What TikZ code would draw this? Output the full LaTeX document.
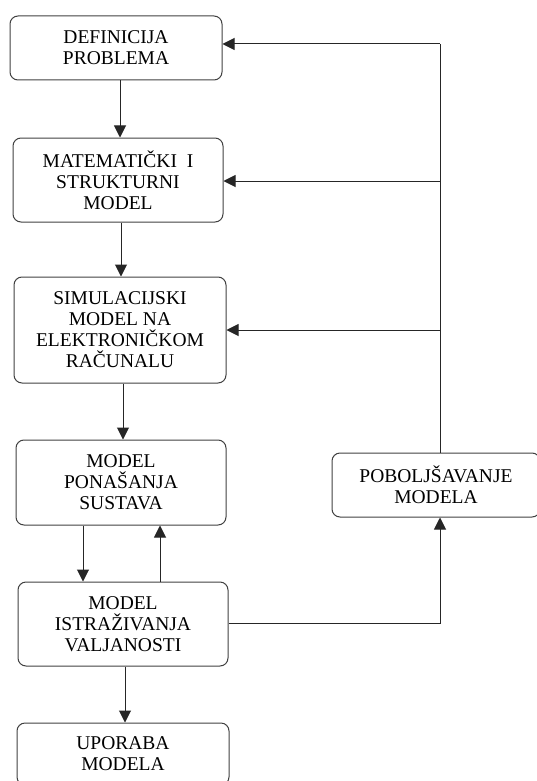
\documentclass[tikz,border=0pt]{standalone}
\usepackage{fontspec}
\setmainfont{Liberation Serif}
\usetikzlibrary{arrows.meta}
\begin{document}
\begin{tikzpicture}[x=1pt,y=-1pt,
  box/.style={draw=black!75, line width=1pt, rounded corners=8pt, align=center,
    inner sep=0pt, font=\fontsize{19.5}{21}\selectfont, text=black},
  arr/.style={-{Triangle[length=12pt,width=12pt]}, line width=1pt, draw=black!85},
  ln/.style={line width=1pt, draw=black!85}]
\useasboundingbox (0,0) rectangle (536,781);
\node[box, minimum width=212pt, minimum height=64pt] (b1) at (116,48) {DEFINICIJA\\PROBLEMA};
\node[box, minimum width=210pt, minimum height=84pt] (b2) at (118,180) {MATEMATIČKI\ \ I\\STRUKTURNI\\MODEL};
\node[box, minimum width=212pt, minimum height=106pt] (b3) at (120,330) {SIMULACIJSKI\\MODEL NA\\ELEKTRONIČKOM\\RAČUNALU};
\node[box, minimum width=210pt, minimum height=85pt] (b4) at (121,482.5) {MODEL\\PONAŠANJA\\SUSTAVA};
\node[box, minimum width=210pt, minimum height=84pt] (b5) at (123,624) {MODEL\\ISTRAŽIVANJA\\VALJANOSTI};
\node[box, minimum width=212pt, minimum height=62pt] (b6) at (123,754) {UPORABA\\MODELA};
\node[box, minimum width=208pt, minimum height=64pt] (b7) at (436,485) {POBOLJŠAVANJE\\MODELA};
% column coordinates
\coordinate (c1) at (120,0);
\coordinate (c2) at (121,0);
\coordinate (c3) at (123,0);
\coordinate (c4a) at (83,0);
\coordinate (c4b) at (160,0);
\coordinate (c5) at (125,0);
\coordinate (fx) at (440,0);
\coordinate (t1) at (440,44);
\coordinate (t2) at (440,181);
\coordinate (t3) at (440,330);
\coordinate (t5) at (440,623);
% main chain
\draw[arr] (b1.south -| c1) -- (b2.north -| c1);
\draw[arr] (b2.south -| c2) -- (b3.north -| c2);
\draw[arr] (b3.south -| c3) -- (b4.north -| c3);
\draw[arr] (b4.south -| c4a) -- (b5.north -| c4a);
\draw[arr] (b5.north -| c4b) -- (b4.south -| c4b);
\draw[arr] (b5.south -| c5) -- (b6.north -| c5);
% feedback
\draw[ln] (b7.north -| fx) -- (t1);
\draw[arr] (t1) -- (t1 -| b1.east);
\draw[arr] (t2) -- (t2 -| b2.east);
\draw[arr] (t3) -- (t3 -| b3.east);
\draw[arr] (t5 -| b5.east) -- (t5) -- (b7.south -| fx);
\end{tikzpicture}
\end{document}
